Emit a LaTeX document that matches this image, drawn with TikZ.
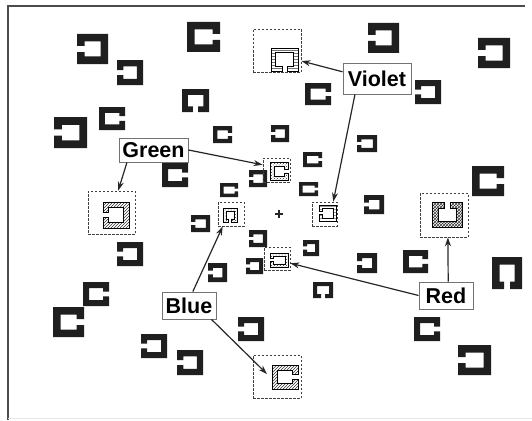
\documentclass[tikz,border=0pt]{standalone}
\usepackage{fontspec}
\setmainfont{Liberation Sans}
\usetikzlibrary{arrows.meta,patterns,calc}
\definecolor{ink}{gray}{0.12}
% channel opening to the right, local frame (0,0)-(W,H); #1 W #2 H #3 T #4 options
\newcommand\pathR[4]{%
  \pgfmathsetmacro\cL{0.4*#2}%
  \path[#4] (0,0) -- (#1,0) -- (#1,\cL) -- ({#1-#3},\cL) -- ({#1-#3},#3) -- (#3,#3)
    -- (#3,{#2-#3}) -- ({#1-#3},{#2-#3}) -- ({#1-#3},{#2-\cL}) -- (#1,{#2-\cL})
    -- (#1,#2) -- (0,#2) -- cycle;}
% channel opening downwards
\newcommand\pathD[4]{%
  \pgfmathsetmacro\cL{0.4*#1}%
  \path[#4] (0,0) -- (#1,0) -- (#1,#2) -- ({#1-\cL},#2) -- ({#1-\cL},{#2-#3})
    -- ({#1-#3},{#2-#3}) -- ({#1-#3},#3) -- (#3,#3) -- (#3,{#2-#3}) -- (\cL,{#2-#3})
    -- (\cL,#2) -- (0,#2) -- cycle;}
% [opts]{x1}{y1}{x2}{y2}{dir}{thickness factor}
\newcommand\chan[7][]{%
  \pgfmathsetmacro\cW{#4-#2}\pgfmathsetmacro\cH{#5-#3}%
  \pgfmathsetmacro\cT{#7*min(\cW,\cH)}%
  \if#6R\begin{scope}[shift={(#2,#3)}]\pathR\cW\cH\cT{#1}\end{scope}\fi
  \if#6L\begin{scope}[shift={(#4,#3)},xscale=-1]\pathR\cW\cH\cT{#1}\end{scope}\fi
  \if#6D\begin{scope}[shift={(#2,#3)}]\pathD\cW\cH\cT{#1}\end{scope}\fi
  \if#6U\begin{scope}[shift={(#2,#5)},yscale=-1]\pathD\cW\cH\cT{#1}\end{scope}\fi
}
\newcommand\blkc[5]{\chan[blk]{#1}{#2}{#3}{#4}{#5}{0.25}}
\begin{document}
\begin{tikzpicture}[x=1pt,y=-1pt,
  lbl/.style={draw=black!55,line width=0.9pt,fill=white,inner sep=0pt,
    font=\fontsize{21.5}{22}\selectfont\bfseries},
  dbox/.style={draw=black!75,line width=0.8pt,dash pattern=on 2.5pt off 1.5pt,inner sep=0pt},
  ptr/.style={draw=black!85,line width=1.2pt,-{Stealth[length=9pt,width=6pt]}},
  blk/.style={fill=ink},
  hl/.style={draw=black,line width=0.6pt}]
\useasboundingbox (0,0) rectangle (532,420);
% frame
\draw[black!70,line width=1.2pt] (8,420) -- (8,6) -- (525,6);
\draw[black!10,line width=0.8pt] (8,418.5) -- (532,418.5);

% plain channels
\blkc{77}{34}{108}{64}{L}
\blkc{117}{60}{143}{85}{L}
\blkc{99}{107}{125}{130}{R}
\blkc{54}{117}{87}{148}{L}
\blkc{187}{22}{220}{52}{R}
\blkc{305}{83}{331}{105}{R}
\blkc{182}{89}{209}{112}{D}
\blkc{213}{126}{232}{143}{R}
\blkc{271}{125}{289}{142}{L}
\blkc{368}{23}{399}{53}{L}
\blkc{478}{38}{510}{68}{L}
\blkc{415}{80}{441}{104}{L}
\blkc{357}{135}{377}{152}{L}
\blkc{472}{166}{504}{196}{R}
\blkc{364}{195}{384}{214}{L}
\blkc{357}{253}{377}{273}{L}
\blkc{403}{250}{428}{273}{R}
\blkc{492}{257}{522}{289}{D}
\blkc{414}{317}{440}{341}{R}
\blkc{458}{345}{491}{375}{L}
\blkc{117}{242}{143}{266}{L}
\blkc{162}{163}{188}{187}{R}
\blkc{83}{282}{109}{306}{R}
\blkc{53}{307}{84}{337}{R}
\blkc{141}{334}{167}{358}{L}
\blkc{177}{350}{203}{375}{L}
\blkc{238}{317}{264}{341}{L}
\blkc{313}{282}{333}{298}{D}
\blkc{303}{152}{322}{167}{R}
\blkc{249}{170}{267}{187}{L}
\blkc{220}{183}{238}{197}{R}
\blkc{299}{182}{318}{196}{R}
\blkc{191}{215}{210}{232}{L}
\blkc{249}{230}{267}{247}{L}
\blkc{303}{240}{319}{256}{L}
\blkc{246}{258}{263}{274}{L}
\blkc{208}{263}{227}{282}{L}

% highlighted channels
\chan[hl,pattern=horizontal lines,pattern color=black!55]{271}{48}{298}{71}{D}{0.2}
\chan[hl,pattern=horizontal lines,pattern color=black!40]{319}{205}{336}{221}{L}{0.2}
\chan[hl,pattern=north east lines,pattern color=black!80]{103}{202}{129}{228}{L}{0.22}
\chan[hl,pattern=crosshatch dots,pattern color=black!80]{270}{162}{288}{180}{R}{0.22}
\chan[hl,pattern=crosshatch dots,pattern color=black!80]{223}{208}{237}{222}{D}{0.22}
\chan[hl,pattern=north east lines,pattern color=black!80]{272}{365}{298}{389}{R}{0.22}
\chan[hl,pattern=crosshatch dots,pattern color=black!80]{270}{253}{288}{267}{L}{0.22}
\chan[hl,pattern=crosshatch,pattern color=black!80]{432}{202}{462}{227}{U}{0.24}

% dashed frames
\node[dbox,minimum width=48pt,minimum height=43pt] (vt) at (277,50.5) {};
\node[dbox,minimum width=25pt,minimum height=24pt] (vc) at (324.5,214) {};
\node[dbox,minimum width=47pt,minimum height=43pt] (gl) at (111.5,212.5) {};
\node[dbox,minimum width=27pt,minimum height=24pt] (gc) at (276.5,170) {};
\node[dbox,minimum width=26pt,minimum height=24pt] (bc) at (231,214) {};
\node[dbox,minimum width=48pt,minimum height=43pt] (bb) at (277,376.5) {};
\node[dbox,minimum width=26pt,minimum height=23pt] (rc) at (277,258.5) {};
\node[dbox,minimum width=48pt,minimum height=44pt] (rr) at (444,215) {};
\coordinate (bbt) at (267,374);

% centre mark
\draw[black!85,line width=1.1pt] (275,214) -- (283,214) (279,210) -- (279,218);

% labels
\node[lbl,minimum width=68pt,minimum height=31pt] (violet) at (377,78.5) {Violet};
\node[lbl,minimum width=69pt,minimum height=24pt] (green) at (153.5,150) {Green};
\node[lbl,minimum width=54pt,minimum height=27pt] (blue) at (189,305.5) {Blue};
\node[lbl,minimum width=54pt,minimum height=27pt] (red) at (446,295.5) {Red};

% pointers
\draw[ptr] ($(violet.north west)!0.29!(violet.south west)$) -- ($(vt.north east)!0.74!(vt.south east)$);
\draw[ptr] ($(violet.south west)!0.18!(violet.south east)$) -- ($(vc.north west)!0.84!(vc.north east)$);
\draw[ptr] ($(green.south west)!0.12!(green.south east)$) -- ($(gl.north west)!0.64!(gl.north east)$);
\draw[ptr] (green.east) -- ($(gc.north west)!0.29!(gc.south west)$);
\draw[ptr] ($(blue.north west)!0.57!(blue.north east)$) -- ($(bc.south west)!0.19!(bc.south east)$);
\draw[ptr] ($(blue.south west)!0.91!(blue.south east)$) -- (bbt);
\draw[ptr] (red.west) -- ($(rc.north east)!0.7!(rc.south east)$);
\draw[ptr] ($(red.north west)!0.54!(red.north east)$) -- ($(rr.south west)!0.58!(rr.south east)$);
\end{tikzpicture}
\end{document}
